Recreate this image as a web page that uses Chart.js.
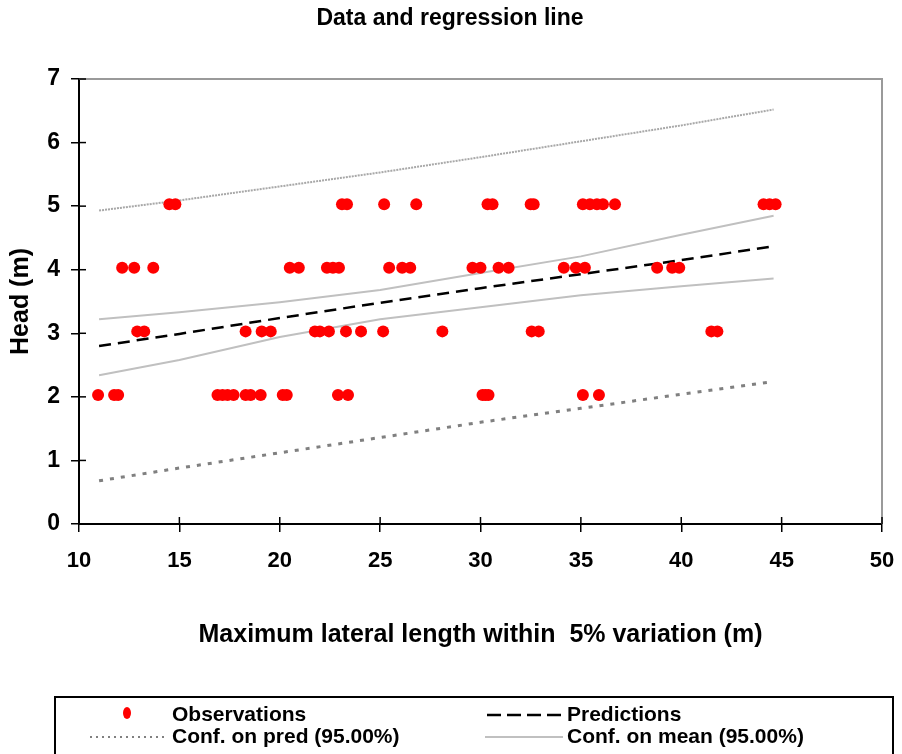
<!DOCTYPE html>
<html>
<head>
<meta charset="utf-8">
<script src="https://cdn.jsdelivr.net/npm/chart.js@4/dist/chart.umd.min.js"></script>
<style>
  body { margin: 0; background: #fff; }
  #wrap { width: 902px; height: 754px; position: relative; }
</style>
</head>
<body>
<div id="wrap"><canvas id="chart"></canvas></div>
<script>
// observations (length in m, head in m)
const obsLength = [
  10.95, 11.75, 11.95, 16.9, 17.15, 17.4, 17.7, 18.3, 18.55, 19.05, 20.15, 20.35, 22.9, 23.4, 30.1, 30.25, 30.4, 35.1, 35.9,
  12.9, 13.25, 18.3, 19.1, 19.55, 21.75, 22.0, 22.45, 23.3, 24.05, 25.15, 28.1, 32.55, 32.9, 41.5, 41.8,
  12.15, 12.75, 13.7, 20.5, 20.95, 22.35, 22.65, 22.95, 25.45, 26.1, 26.5, 29.6, 30.0, 30.9, 31.4, 34.15, 34.75, 35.2, 38.8, 39.55, 39.9,
  14.5, 14.8, 23.1, 23.35, 25.2, 26.8, 30.35, 30.6, 32.5, 32.65, 35.1, 35.45, 35.8, 36.1, 36.7, 44.1, 44.4, 44.7
];
const obsHead = [
  2.03, 2.03, 2.03, 2.03, 2.03, 2.03, 2.03, 2.03, 2.03, 2.03, 2.03, 2.03, 2.03, 2.03, 2.03, 2.03, 2.03, 2.03, 2.03,
  3.03, 3.03, 3.03, 3.03, 3.03, 3.03, 3.03, 3.03, 3.03, 3.03, 3.03, 3.03, 3.03, 3.03, 3.03, 3.03,
  4.03, 4.03, 4.03, 4.03, 4.03, 4.03, 4.03, 4.03, 4.03, 4.03, 4.03, 4.03, 4.03, 4.03, 4.03, 4.03, 4.03, 4.03, 4.03, 4.03, 4.03,
  5.03, 5.03, 5.03, 5.03, 5.03, 5.03, 5.03, 5.03, 5.03, 5.03, 5.03, 5.03, 5.03, 5.03, 5.03, 5.03, 5.03, 5.03
];

// regression line and bands, read at these lengths
const lineX     = [11, 15, 20, 25, 30, 35, 40, 44.6];
const predY     = [2.80, 2.99, 3.24, 3.48, 3.71, 3.93, 4.15, 4.37];
const meanUpper = [3.22, 3.33, 3.49, 3.68, 3.95, 4.21, 4.55, 4.85];
const meanLower = [2.34, 2.58, 2.94, 3.22, 3.41, 3.60, 3.74, 3.86];
const predUpper = [4.93, 5.09, 5.31, 5.53, 5.77, 6.02, 6.27, 6.52];
const predLower = [0.68, 0.88, 1.12, 1.36, 1.60, 1.82, 2.04, 2.24];

const xTicks = [10, 15, 20, 25, 30, 35, 40, 45, 50];
const yTicks = [0, 1, 2, 3, 4, 5, 6, 7];

const FONT = "'Liberation Sans', Arial, sans-serif";
const pts = (xs, ys) => xs.map((x, i) => ({ x: x, y: ys[i] }));

const lineDs = (label, ys, color, width, dash) => ({
  label: label, type: 'line', data: pts(lineX, ys),
  borderColor: color, borderWidth: width, borderDash: dash,
  pointRadius: 0, fill: false, tension: 0, order: 1
});

// top/right frame, inner tick halves, title and legend box
const decor = {
  id: 'decor',
  beforeDatasetsDraw(chart) {
    const { ctx, chartArea: a } = chart;
    ctx.save();
    ctx.strokeStyle = '#9a9a9a';
    ctx.lineWidth = 2;
    ctx.beginPath();
    ctx.moveTo(a.left, a.top); ctx.lineTo(a.right, a.top); ctx.lineTo(a.right, a.bottom);
    ctx.stroke();
    ctx.strokeStyle = '#000';
    ctx.lineWidth = 1.5;
    const xs = chart.scales.x, ys = chart.scales.y;
    xTicks.forEach(v => {
      const px = xs.getPixelForValue(v);
      ctx.beginPath(); ctx.moveTo(px, a.bottom); ctx.lineTo(px, a.bottom - 7); ctx.stroke();
    });
    yTicks.forEach(v => {
      const py = ys.getPixelForValue(v);
      ctx.beginPath(); ctx.moveTo(a.left, py); ctx.lineTo(a.left + 7, py); ctx.stroke();
    });
    ctx.restore();
  },
  afterDraw(chart) {
    const ctx = chart.ctx;
    ctx.save();
    ctx.fillStyle = '#000';
    ctx.textBaseline = 'middle';
    ctx.textAlign = 'center';
    ctx.font = 'bold 23px ' + FONT;
    ctx.fillText('Data and regression line', 450, 19);

    // legend
    ctx.strokeStyle = '#000';
    ctx.lineWidth = 2;
    ctx.strokeRect(55, 697, 838, 70);
    ctx.font = 'bold 21px ' + FONT;
    ctx.textAlign = 'left';
    const ds = chart.data.datasets;
    const r1 = 715, r2 = 737;
    // Observations
    ctx.fillStyle = ds[0].backgroundColor;
    ctx.beginPath(); ctx.ellipse(127, r1 - 2, 4, 6, 0, 0, Math.PI * 2); ctx.fill();
    // Conf. on pred
    ctx.strokeStyle = ds[4].borderColor; ctx.lineWidth = 2; ctx.setLineDash([2, 4]);
    ctx.beginPath(); ctx.moveTo(90, r2); ctx.lineTo(166, r2); ctx.stroke();
    // Predictions
    ctx.strokeStyle = ds[1].borderColor; ctx.lineWidth = 2.5; ctx.setLineDash([14, 6]);
    ctx.beginPath(); ctx.moveTo(487, r1); ctx.lineTo(562, r1); ctx.stroke();
    // Conf. on mean
    ctx.strokeStyle = ds[2].borderColor; ctx.lineWidth = 2; ctx.setLineDash([]);
    ctx.beginPath(); ctx.moveTo(485, r2); ctx.lineTo(563, r2); ctx.stroke();
    ctx.fillStyle = '#000';
    ctx.fillText('Observations', 172, r1);
    ctx.fillText('Conf. on pred (95.00%)', 172, r2);
    ctx.fillText('Predictions', 567, r1);
    ctx.fillText('Conf. on mean (95.00%)', 567, r2);
    ctx.restore();
  }
};

new Chart(document.getElementById('chart'), {
  type: 'scatter',
  data: {
    datasets: [
      {
        label: 'Observations', data: pts(obsLength, obsHead),
        backgroundColor: '#ff0000', borderWidth: 0, pointRadius: 6, order: 0
      },
      lineDs('Predictions', predY, '#000000', 2.5, [12, 7]),
      lineDs('Conf. on mean (95.00%)', meanUpper, '#c0c0c0', 2, []),
      lineDs('Conf. on mean (95.00%)', meanLower, '#c0c0c0', 2, []),
      lineDs('Conf. on pred (95.00%)', predLower, '#808080', 3, [4, 7]),
      lineDs('Conf. on pred (95.00%)', predUpper, '#a8a8a8', 2, [2, 1])
    ]
  },
  options: {
    responsive: true,
    maintainAspectRatio: false,
    animation: false,
    layout: { padding: { top: 79, right: 20, bottom: 0, left: 0 } },
    plugins: { legend: { display: false }, title: { display: false }, tooltip: { enabled: false } },
    scales: {
      x: {
        type: 'linear', min: 10, max: 50,
        afterFit: s => { s.height = 230; s.paddingRight = 0; s.paddingLeft = 0; },
        afterBuildTicks: s => { s.ticks = xTicks.map(v => ({ value: v })); },
        ticks: { color: '#000', padding: 16, font: { family: FONT, size: 22, weight: 'bold' } },
        grid: { drawOnChartArea: false, color: '#000', lineWidth: 1.5, tickLength: 8 },
        border: { color: '#000', width: 2 },
        title: {
          display: true, text: 'Maximum lateral length within  5% variation (m)', color: '#000',
          font: { family: FONT, size: 25, weight: 'bold' }, padding: { top: 0, bottom: 104 }
        }
      },
      y: {
        type: 'linear', min: 0, max: 7,
        afterFit: s => { s.width = 79; },
        afterBuildTicks: s => { s.ticks = yTicks.map(v => ({ value: v })); },
        ticks: { color: '#000', padding: 11, font: { family: FONT, size: 23, weight: 'bold' } },
        grid: { drawOnChartArea: false, color: '#000', lineWidth: 1.5, tickLength: 8 },
        border: { color: '#000', width: 2 },
        title: {
          display: true, text: 'Head (m)', color: '#000',
          font: { family: FONT, size: 25, weight: 'bold' }, padding: { top: 6, bottom: 0 }
        }
      }
    }
  },
  plugins: [decor]
});
</script>
</body>
</html>
